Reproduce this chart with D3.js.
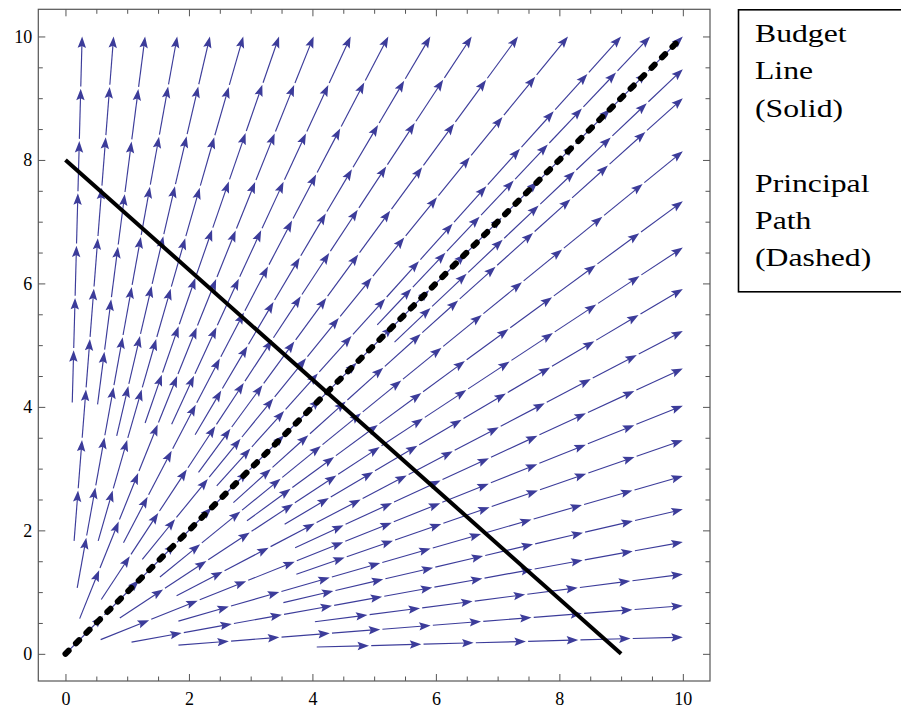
<!DOCTYPE html>
<html>
<head>
<meta charset="utf-8">
<script src="https://cdn.jsdelivr.net/npm/d3@7"></script>
<style>
  html, body { margin: 0; padding: 0; background: #fff; }
  svg { display: block; }
</style>
</head>
<body>
<div id="chart"></div>
<script>
// ---------------- data ----------------
// streamlines below the diagonal: start and end points (data units)
const lowerStarts = [[4.07,0.11],[1.83,0.14],[4.04,0.52],[1.07,0.19],[3.53,0.83],[1.83,0.53],[3.74,1.29],[0.57,0.23],
                     [3.72,1.72],[1.80,0.94],[3.55,2.10],[0.88,0.58],[2.94,2.155],[1.53,1.245],[2.72,2.45],[5.33,5.05]];
const lowerEnds   = [[10,0.27],[10,0.78],[10,1.29],[10,1.81],[10,2.34],[10,2.88],[10,3.46],[10,4.02],
                     [10,4.62],[10,5.23],[10,5.91],[10,6.58],[10,7.33],[10,8.14],[10,9.0],[10,9.47]];
// streamlines above the diagonal
const upperStarts = [[0.11,4.07],[0.14,1.83],[0.52,4.04],[0.19,1.07],[0.83,3.53],[0.53,1.83],[1.29,3.74],[0.23,0.57],
                     [1.72,3.72],[0.94,1.80],[2.10,3.55],[0.58,0.88],[2.155,2.94],[1.245,1.53],[2.45,2.72],[5.05,5.33]];
const upperEnds   = [[0.27,10],[0.78,10],[1.29,10],[1.81,10],[2.34,10],[2.88,10],[3.46,10],[4.02,10],
                     [4.62,10],[5.23,10],[5.91,10],[6.58,10],[7.33,10],[8.14,10],[9.0,10],[9.47,10]];
// streamline on the diagonal
const diagStart = [0.02,0.02];
const diagEnd = [10,10];

const budgetLine = [[0,8],[9,0]];
const principalPath = [[0,0],[10,10]];

const xTicks = [0,2,4,6,8,10];
const yTicks = [0,2,4,6,8,10];
const minorTicks = [0.5,1,1.5,2.5,3,3.5,4.5,5,5.5,6.5,7,7.5,8.5,9,9.5];

const legendLines = ["Budget","Line","(Solid)","","Principal","Path","(Dashed)"];

const arrowSpacing = 0.84; // data units between arrowheads

// ---------------- layout ----------------
const W = 901, H = 708;
const frame = {left: 38.3, right: 710, top: 9.3, bottom: 681};
const domain = [-0.44, 10.44];

const svg = d3.select("#chart").append("svg").attr("width", W).attr("height", H);

const x = d3.scaleLinear().domain(domain).range([frame.left, frame.right]);
const y = d3.scaleLinear().domain(domain).range([frame.bottom, frame.top]);

const serif = "'Liberation Serif','Times New Roman',Times,serif";
const blue = "#3c3c9a";
const frameColor = "#555";

// clip
svg.append("defs").append("clipPath").attr("id","clip")
  .append("rect").attr("x",frame.left).attr("y",frame.top)
  .attr("width",frame.right-frame.left).attr("height",frame.bottom-frame.top);

const plot = svg.append("g").attr("clip-path","url(#clip)");

// ---------------- streamlines ----------------
const streams = [];
lowerStarts.forEach((s,i)=>streams.push({s, e: lowerEnds[i]}));
upperStarts.forEach((s,i)=>streams.push({s, e: upperEnds[i]}));
streams.push({s: diagStart, e: diagEnd});

const gStreams = plot.append("g");
const headLen = 11.5, headHalf = 4.2, gap = 2.2;

streams.forEach(st => {
  const x0 = x(st.s[0]), y0 = y(st.s[1]);
  const x1 = x(st.e[0]), y1 = y(st.e[1]);
  const Ld = Math.hypot(st.e[0]-st.s[0], st.e[1]-st.s[1]);
  const n = Math.max(1, Math.round(Ld / arrowSpacing));
  const dx = x1-x0, dy = y1-y0;
  const Lp = Math.hypot(dx, dy);
  const ux = dx/Lp, uy = dy/Lp;
  let prev = 0;
  for (let k = 1; k <= n; k++) {
    const t = Lp * k / n;
    const a = (k === 1) ? 0 : prev + gap;
    gStreams.append("line")
      .attr("x1", x0 + ux*a).attr("y1", y0 + uy*a)
      .attr("x2", x0 + ux*(t-headLen*0.6)).attr("y2", y0 + uy*(t-headLen*0.6))
      .attr("stroke", blue).attr("stroke-width", 1.15);
    const tx = x0 + ux*t, ty = y0 + uy*t;
    const bx = tx - ux*headLen, by = ty - uy*headLen;
    const nx = -uy, ny = ux;
    const mx = tx - ux*headLen*0.82, my = ty - uy*headLen*0.82;
    gStreams.append("path")
      .attr("d", `M${tx},${ty}L${bx+nx*headHalf},${by+ny*headHalf}L${mx},${my}L${bx-nx*headHalf},${by-ny*headHalf}Z`)
      .attr("fill", blue).attr("stroke", "none");
    prev = t;
  }
});

// ---------------- budget line & principal path ----------------
const line = d3.line().x(d=>x(d[0])).y(d=>y(d[1]));
plot.append("path").datum(budgetLine).attr("d", line)
  .attr("fill","none").attr("stroke","#000").attr("stroke-width",4);
plot.append("path").datum(principalPath).attr("d", line)
  .attr("fill","none").attr("stroke","#000").attr("stroke-width",6)
  .attr("stroke-linecap","round").attr("stroke-dasharray","4.5 10.3");

// ---------------- frame & axes ----------------
const majorLen = 7, minorLen = 4.5;
function styleAxis(g){
  g.select(".domain").remove();
  g.selectAll(".tick line").attr("stroke", frameColor).attr("stroke-width",1);
  g.selectAll(".tick text").attr("fill","#000").attr("font-family",serif).attr("font-size",18);
}
svg.append("g").attr("transform",`translate(0,${frame.bottom})`)
  .call(d3.axisBottom(x).tickValues(xTicks).tickSizeInner(-majorLen).tickPadding(11).tickFormat(d3.format("d")))
  .call(styleAxis);
svg.append("g").attr("transform",`translate(0,${frame.bottom})`)
  .call(d3.axisBottom(x).tickValues(minorTicks).tickSizeInner(-minorLen).tickFormat(""))
  .call(styleAxis);
svg.append("g").attr("transform",`translate(0,${frame.top})`)
  .call(d3.axisTop(x).tickValues(xTicks).tickSizeInner(-majorLen).tickFormat(""))
  .call(styleAxis);
svg.append("g").attr("transform",`translate(0,${frame.top})`)
  .call(d3.axisTop(x).tickValues(minorTicks).tickSizeInner(-minorLen).tickFormat(""))
  .call(styleAxis);
svg.append("g").attr("transform",`translate(${frame.left},0)`)
  .call(d3.axisLeft(y).tickValues(yTicks).tickSizeInner(-majorLen).tickPadding(6).tickFormat(d3.format("d")))
  .call(styleAxis);
svg.append("g").attr("transform",`translate(${frame.left},0)`)
  .call(d3.axisLeft(y).tickValues(minorTicks).tickSizeInner(-minorLen).tickFormat(""))
  .call(styleAxis);
svg.append("g").attr("transform",`translate(${frame.right},0)`)
  .call(d3.axisRight(y).tickValues(yTicks).tickSizeInner(-majorLen).tickFormat(""))
  .call(styleAxis);
svg.append("g").attr("transform",`translate(${frame.right},0)`)
  .call(d3.axisRight(y).tickValues(minorTicks).tickSizeInner(-minorLen).tickFormat(""))
  .call(styleAxis);

svg.append("rect").attr("x",frame.left).attr("y",frame.top)
  .attr("width",frame.right-frame.left).attr("height",frame.bottom-frame.top)
  .attr("fill","none").attr("stroke",frameColor).attr("stroke-width",1.2);

// ---------------- legend ----------------
const lg = svg.append("g");
lg.append("rect").attr("x",738.5).attr("y",9.8).attr("width",200).attr("height",282)
  .attr("fill","#fff").attr("stroke","#000").attr("stroke-width",1.6);
const lt = lg.append("g").attr("transform","translate(755,0) scale(1.22,1)");
lt.selectAll("text").data(legendLines).join("text")
  .attr("x",0).attr("y",(d,i)=>42 + i*37.4)
  .attr("font-family",serif).attr("font-size",26).attr("fill","#000")
  .text(d=>d);
</script>
</body>
</html>
